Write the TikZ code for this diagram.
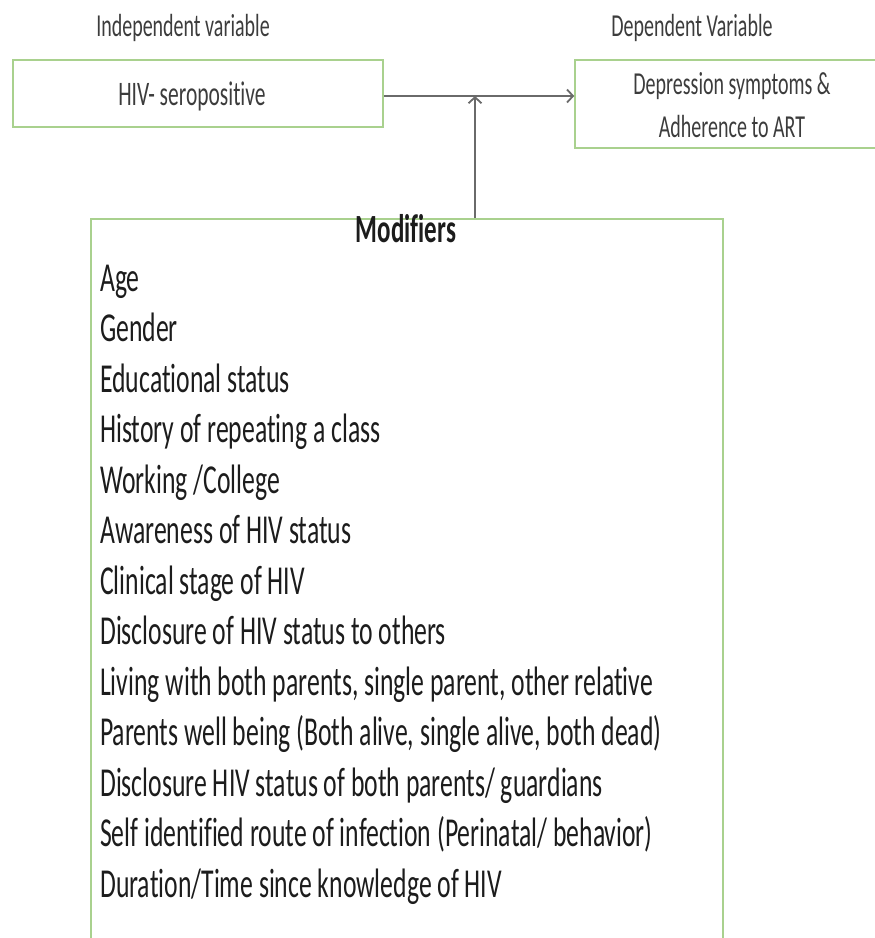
\documentclass[tikz,border=0pt]{standalone}
\usepackage{fontspec}
\setmainfont{Carlito}[Ligatures=NoCommon]
\usetikzlibrary{arrows.meta}
\definecolor{boxgreen}{HTML}{A9D18E}
\definecolor{arrowgray}{HTML}{6A6A6A}
\definecolor{labelgray}{HTML}{3C3C3C}
\definecolor{itemblack}{HTML}{1C1C1C}
\newcommand{\tallbox}[1]{\scalebox{1}[1.6]{#1}}
\newcommand{\lowerby}[2]{\raisebox{-#1}[\height][\depth]{#2}}
\tikzset{
  varbox/.style={draw=boxgreen, line width=1.5pt, inner sep=0pt, align=center, text=labelgray, font=\fontsize{20}{25}\selectfont},
  toplabel/.style={inner sep=0pt, text=labelgray, font=\fontsize{20}{25}\selectfont},
  item/.style={anchor=base west, inner sep=0pt, text=itemblack, font=\fontsize{25.7}{30}\selectfont},
  flow/.style={draw=arrowgray, line width=1.8pt, -{Straight Barb[length=6pt,width=13pt]}}
}
\begin{document}
\begin{tikzpicture}[x=1pt, y=-1pt]
\useasboundingbox (0,0) rectangle (875,938);
\clip (0,0) rectangle (875,938);
\node[toplabel] (indep) at (183,28) {\tallbox{Independent variable}};
\node[toplabel] (depen) at (692,28) {\tallbox{Dependent Variable}};
\node[varbox, minimum width=370pt, minimum height=67pt, font=\fontsize{21.5}{26}\selectfont] (hiv) at (198,93.5) {\lowerby{3pt}{\tallbox{HIV- seropositive}}\hspace*{12pt}};
\node[varbox, minimum width=314pt, minimum height=88pt] (dep) at (732,104) {\lowerby{4pt}{\tallbox{\begin{tabular}{@{}c@{}}Depression symptoms \&\\[2pt]Adherence to ART\end{tabular}}}};
\node[draw=boxgreen, line width=1.5pt, anchor=north west, minimum width=632pt, minimum height=760pt] (mod) at (90,218) {};
\node[inner sep=0pt, text=itemblack, font=\fontsize{25}{30}\selectfont\bfseries] (modtitle) at (406,229) {\tallbox{Modifiers}};
\coordinate (join) at (475,96);
\draw[flow] (hiv.east |- join) -- (dep.west |- join);
\draw[flow] (mod.north -| join) -- (join);
\foreach \txt [count=\i] in {Age, Gender, Educational status, History of repeating a class, Working /College, Awareness of HIV status, Clinical stage of HIV, Disclosure of HIV status to others, {Living with both parents, single parent, other relative}, {Parents well being (Both alive, single alive, both dead)}, Disclosure HIV status of both parents/ guardians, Self identified route of infection (Perinatal/ behavior), Duration/Time since knowledge of HIV}
  \node[item] (m\i) at (100,{291+50.5*(\i-1)}) {\tallbox{\txt}};
\end{tikzpicture}
\end{document}
